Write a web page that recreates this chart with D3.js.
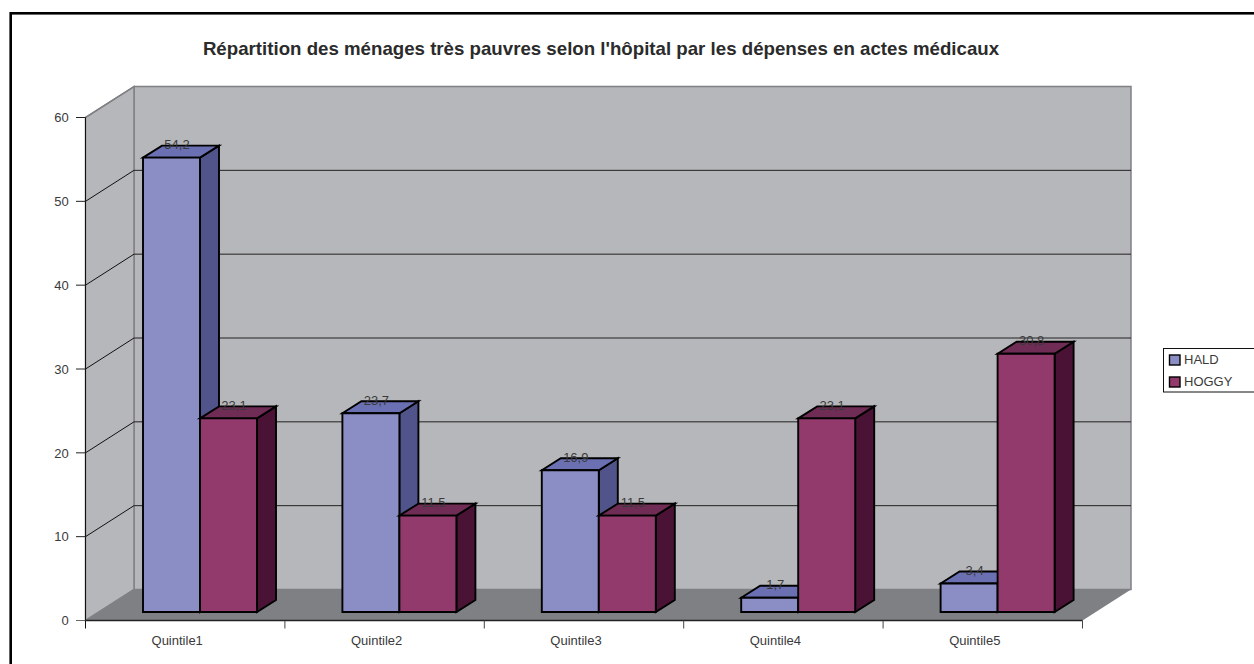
<!DOCTYPE html>
<html><head><meta charset="utf-8">
<script src="https://cdn.jsdelivr.net/npm/d3@7/dist/d3.min.js"></script>
<style>html,body{margin:0;padding:0;background:#fff}svg{display:block}text{font-family:"Liberation Sans",Arial,sans-serif;fill:#3a3a3a}</style>
</head><body><svg id="c" width="1254" height="664"></svg>
<script>
const categories=["Quintile1","Quintile2","Quintile3","Quintile4","Quintile5"];
const seriesNames=["HALD","HOGGY"];
const hald=[54.2,23.7,16.9,1.7,3.4];
const hoggy=[23.1,11.5,11.5,23.1,30.8];
const yTicks=[0,10,20,30,40,50,60];
const title="Répartition des ménages très pauvres selon l'hôpital par les dépenses en actes médicaux";

const svg=d3.select("#c");
const x0=85.5,x1=1082.5,yB=620.5,yT=117.5,dx=48.5,dy=-31;
const y=d3.scaleLinear().domain([0,60]).range([yB,yT]);
const x=d3.scaleBand().domain(categories).range([x0,x1]);
const poly=(pts,fill,stroke,sw)=>svg.append("polygon").attr("points",pts.map(p=>p.join(",")).join(" ")).attr("fill",fill).attr("stroke",stroke||"none").attr("stroke-width",sw||0).attr("stroke-linejoin","miter");
const line=(a,b,c,w)=>svg.append("line").attr("x1",a[0]).attr("y1",a[1]).attr("x2",b[0]).attr("y2",b[1]).attr("stroke",c).attr("stroke-width",w);

// frame
svg.append("rect").attr("x",10.7).attr("y",13.3).attr("width",1300).attr("height",700).attr("fill","#fff").attr("stroke","#000").attr("stroke-width",2.6);

// title
svg.append("text").attr("x",601).attr("y",55).attr("text-anchor","middle").attr("font-size",14.6*796/622).attr("font-weight","bold").style("fill","#2b2b2b").text(title);

// walls
const wallGrey="#b6b7ba",edge="#808185";
poly([[x0+dx,yT+dy],[x1+dx,yT+dy],[x1+dx,yB+dy],[x0+dx,yB+dy]],wallGrey,edge,1.5);
poly([[x0,yT],[x0+dx,yT+dy],[x0+dx,yB+dy],[x0,yB]],wallGrey,edge,1.5);
poly([[x0,yB],[x1,yB],[x1+dx,yB+dy],[x0+dx,yB+dy]],"#7f8083");

// gridlines
yTicks.filter(t=>t>0&&t<60).forEach(t=>{
  line([x0,y(t)],[x0+dx,y(t)+dy],"#111",1);
  line([x0+dx,y(t)+dy],[x1+dx,y(t)+dy],"#222",1);
});
line([x0,yT],[x0+dx,yT+dy],"#808185",1.2);
line([x0,yT],[x0,yB],"#111",1);
line([x0,yB],[x1,yB],"#222",1.4);

// y axis
yTicks.forEach(t=>{
  line([x0-9.5,y(t)],[x0,y(t)],t===0?"#666":"#222",1);
  svg.append("text").attr("x",68.7).attr("y",y(t)+4.7).attr("text-anchor","end").attr("font-size",13).text(t);
});
// x axis
const tickXs=categories.map(c=>x(c)).concat([x1]);
tickXs.forEach((t,i)=>line([t,yB],[t,yB+8],i==0?"#111":"#444",1));
categories.forEach(c=>svg.append("text").attr("x",x(c)+x.bandwidth()/2-8).attr("y",645).attr("text-anchor","middle").attr("font-size",13).text(c));

// bars
const barW=57,ddx=19,ddy=-12,lift=8.5,inset=57.5;
const palette=[{f:"#8b8ec5",t:"#6b70b3",s:"#50548a"},{f:"#933a6d",t:"#6f2c55",s:"#4a1335"}];
[hald,hoggy].forEach((vals,si)=>{
  vals.forEach((v,i)=>{
    const bx=x(categories[i])+inset+si*barW, by=yB-lift, ty=y(v)-lift, c=palette[si];
    poly([[bx+barW,ty],[bx+barW+ddx,ty+ddy],[bx+barW+ddx,by+ddy],[bx+barW,by]],c.s,"#000",1.9);
    poly([[bx,ty],[bx+ddx,ty+ddy],[bx+barW+ddx,ty+ddy],[bx+barW,ty]],c.t,"#000",1.9);
    poly([[bx,ty],[bx+barW,ty],[bx+barW,by],[bx,by]],c.f,"#000",1.9);
  });
});
// value labels
[hald,hoggy].forEach((vals,si)=>vals.forEach((v,i)=>{
  const bx=x(categories[i])+inset+si*barW;
  svg.append("text").attr("x",bx+34).attr("y",y(v)-lift-8.5).attr("text-anchor","middle").attr("font-size",13).text(String(v).replace(".",","));
}));

// legend
svg.append("rect").attr("x",1163.5).attr("y",348.5).attr("width",120).attr("height",43.5).attr("fill","#fff").attr("stroke","#111").attr("stroke-width",1);
seriesNames.forEach((n,i)=>{
  const ly=355+i*22;
  svg.append("rect").attr("x",1169.5).attr("y",ly).attr("width",10.5).attr("height",10).attr("fill",palette[i].f).attr("stroke","#000").attr("stroke-width",1.4);
  svg.append("text").attr("x",1184).attr("y",ly+9.3).attr("font-size",13).text(n);
});
</script></body></html>
